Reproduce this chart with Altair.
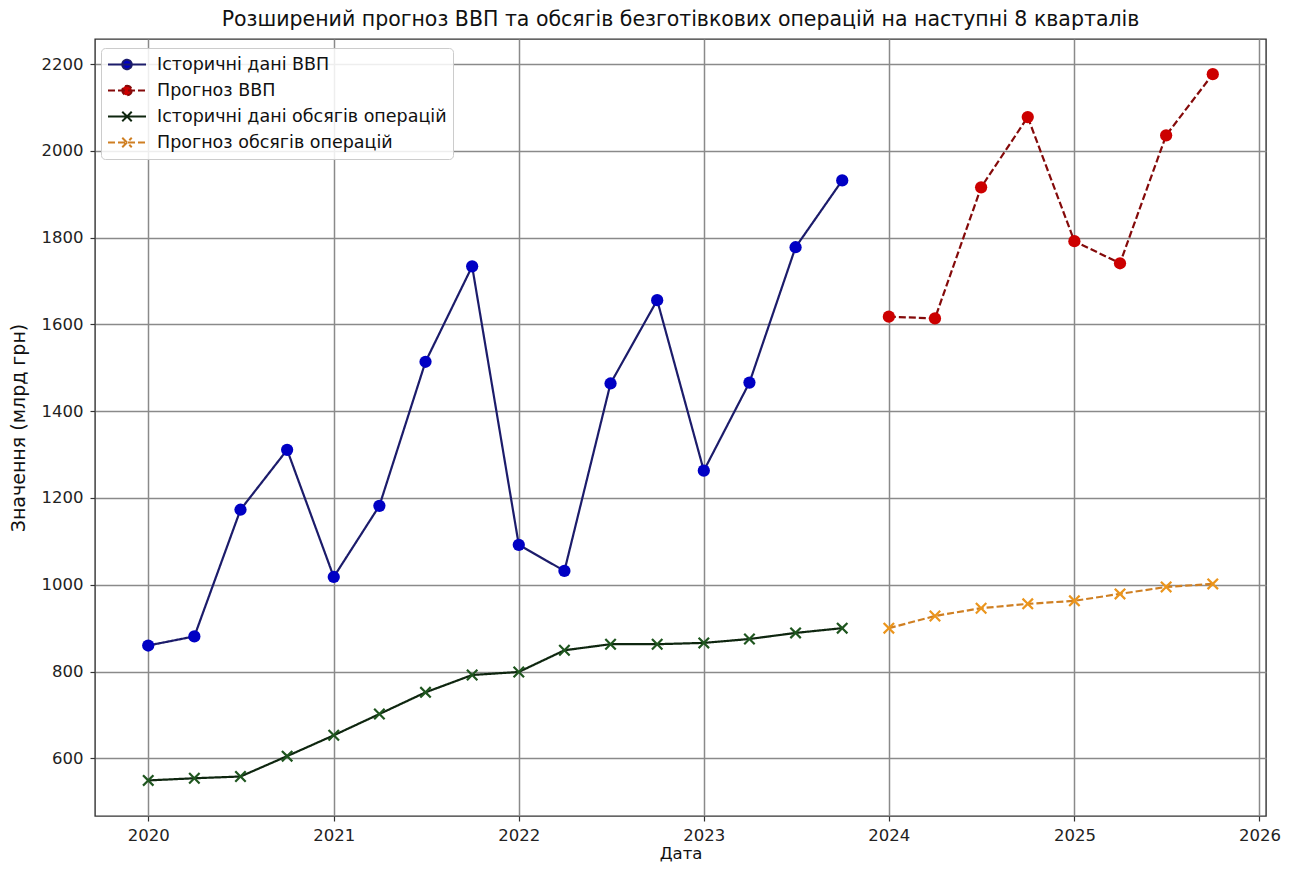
import altair as alt
import pandas as pd

# ---------------- data ----------------
series_names = [
    "Історичні дані ВВП",
    "Прогноз ВВП",
    "Історичні дані обсягів операцій",
    "Прогноз обсягів операцій",
]
hist_dates = [d.strftime("%Y-%m-%d") for d in pd.date_range("2020-01-01", periods=16, freq="QS")]
fc_dates = [d.strftime("%Y-%m-%d") for d in pd.date_range("2024-01-01", periods=8, freq="QS")]

gdp_hist = [860, 881, 1173, 1311, 1018, 1182, 1514, 1734, 1092, 1032, 1464, 1656, 1263, 1466, 1778, 1932]
gdp_fc = [1618, 1614, 1916, 2078, 1792, 1741, 2036, 2177]
ops_hist = [549, 554, 558, 605, 653, 702, 752, 792, 799, 849, 863, 863, 866, 875, 889, 900]
ops_fc = [900, 928, 946, 956, 963, 979, 995, 1002]

year_ticks = [2020, 2021, 2022, 2023, 2024, 2025, 2026]
y_ticks = [600, 800, 1000, 1200, 1400, 1600, 1800, 2000, 2200]

# ---------------- styles ----------------
line_colors = ["#1c1c6b", "#840a0a", "#0e260f", "#cf7f22"]
marker_colors = ["#0000c4", "#cc0000", "#1f561f", "#eb951c"]
dashes = [[1, 0], [7, 3], [1, 0], [7, 3]]
FONT = "DejaVu Sans"

d = 0.26
pts = [(-1, -1 + d), (-1 + d, -1), (0, -d), (1 - d, -1), (1, -1 + d), (d, 0),
       (1, 1 - d), (1 - d, 1), (0, d), (-1 + d, 1), (-1, 1 - d), (-d, 0)]
x_marker = "M" + "L".join(f"{a:.3f},{b:.3f}" for a, b in pts) + "Z"

r = 0.25
leg_circle = f"M-1,0H1M{r},0A{r},{r} 0 1 1 -{r},0A{r},{r} 0 1 1 {r},0Z"
leg_x = f"M-1,0H1M-{r},-{r}L{r},{r}M-{r},{r}L{r},-{r}"
legend_shapes = [leg_circle, leg_circle, leg_x, leg_x]

rows = []
for name, dates, vals in [
    (series_names[0], hist_dates, gdp_hist),
    (series_names[1], fc_dates, gdp_fc),
    (series_names[2], hist_dates, ops_hist),
    (series_names[3], fc_dates, ops_fc),
]:
    for dt, v in zip(dates, vals):
        rows.append({"date": dt, "value": v, "series": name})
df = pd.DataFrame(rows)

leg = alt.Legend(
    title=None, orient="none", legendX=6, legendY=9,
    labelFont=FONT, labelFontSize=17.5, labelColor="#111111", labelLimit=0,
    padding=6, fillColor="rgba(255,255,255,0.85)", strokeColor="#cccccc",
    cornerRadius=4, symbolSize=1444, symbolStrokeWidth=2, clipHeight=21,
    rowPadding=5, labelOffset=10, symbolOpacity=1,
)

x_enc = alt.X(
    "date:T",
    scale=alt.Scale(domain=[alt.DateTime(year=2019, month=9, date=18),
                            alt.DateTime(year=2026, month=1, date=14)]),
    axis=alt.Axis(values=[alt.DateTime(year=y, month=1, date=1) for y in year_ticks],
                  format="%Y", title="Дата", labelPadding=6, titlePadding=2),
)
y_enc = alt.Y(
    "value:Q",
    scale=alt.Scale(domain=[467, 2258], nice=False, zero=False),
    axis=alt.Axis(values=y_ticks, format="d", title="Значення (млрд грн)",
                  labelPadding=7, titlePadding=13, titleFontSize=19),
)

stroke_enc = alt.Stroke("series:N", scale=alt.Scale(domain=series_names, range=line_colors), legend=leg)
dash_enc = alt.StrokeDash("series:N", scale=alt.Scale(domain=series_names, range=dashes), legend=leg)
fill_enc = alt.Fill("series:N", scale=alt.Scale(domain=series_names, range=marker_colors), legend=leg)
shape_enc = alt.Shape("series:N", scale=alt.Scale(domain=series_names, range=legend_shapes), legend=leg)

base = alt.Chart(df)

lines = base.mark_line(strokeWidth=2.2).encode(x=x_enc, y=y_enc, stroke=stroke_enc, strokeDash=dash_enc)

gdp_filter = alt.FieldOneOfPredicate(field="series", oneOf=series_names[:2])
ops_filter = alt.FieldOneOfPredicate(field="series", oneOf=series_names[2:])

circles = base.transform_filter(gdp_filter).mark_point(
    filled=True, shape="circle", size=150, opacity=1
).encode(x=x_enc, y=y_enc, fill=fill_enc)

crosses = base.transform_filter(ops_filter).mark_point(
    filled=True, shape=x_marker, size=144, opacity=1
).encode(x=x_enc, y=y_enc, fill=fill_enc)

legend_layer = base.transform_filter("false").mark_point(filled=True, opacity=1).encode(
    x=x_enc, y=y_enc, fill=fill_enc, stroke=stroke_enc, shape=shape_enc
)

chart = alt.layer(lines, circles, crosses, legend_layer).properties(
    width=1171, height=777,
    background="white",
    title=alt.TitleParams(
        "Розширений прогноз ВВП та обсягів безготівкових операцій на наступні 8 кварталів",
        font=FONT, fontSize=20.5, fontWeight="normal", color="#111111", offset=9,
    ),
    autosize=alt.AutoSizeParams(type="none"),
    padding={"left": 87, "top": 31, "right": 17, "bottom": 49},
).configure_axis(
    labelFont=FONT, labelFontSize=16.5, labelColor="#222222",
    titleFont=FONT, titleFontSize=16.5, titleFontWeight="normal", titleColor="#111111",
    tickColor="#333333", tickSize=5, tickWidth=1.2, domain=False,
    grid=True, gridColor="#8a8a8a", gridWidth=1.5,
).configure_view(stroke="#333333", strokeWidth=1.4)

chart.save("out.html", embed_options={"renderer": "svg", "actions": False})
